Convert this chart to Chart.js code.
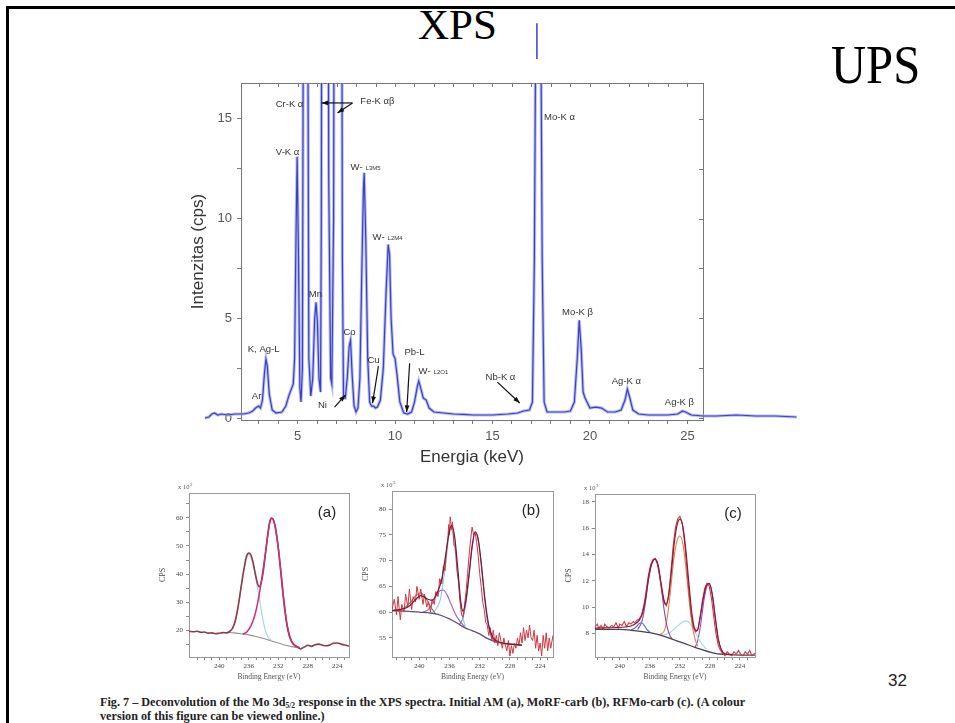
<!DOCTYPE html>
<html><head><meta charset="utf-8">
<script src="https://cdn.jsdelivr.net/npm/chart.js@4/dist/chart.umd.min.js"></script>
<style>
html,body{margin:0;padding:0;background:#fff;width:955px;height:723px;overflow:hidden;position:relative;font-family:'Liberation Sans',Arial,sans-serif}
#frameTop{position:absolute;left:6px;top:6px;width:949px;height:3px;background:#000}
#frameLeft{position:absolute;left:6px;top:6px;width:3px;height:717px;background:#000}
.ttl{position:absolute;font-family:'Liberation Serif','Times New Roman',serif;color:#000;line-height:1;white-space:nowrap}
canvas{position:absolute}
#caption{position:absolute;left:100px;top:695px;font-family:'Liberation Serif','Times New Roman',serif;font-weight:bold;font-size:12.2px;line-height:14px;color:#222;white-space:nowrap}
#caption sub{font-size:7.5px;vertical-align:-2px;line-height:0}
#pg{position:absolute;left:888px;top:671px;font-size:17px;color:#222;font-family:'Liberation Sans',Arial,sans-serif}
</style></head><body>
<div id="frameTop"></div><div id="frameLeft"></div>
<div class="ttl" style="left:418px;top:3px;font-size:43px;">XPS</div>
<div class="ttl" style="left:831px;top:38px;font-size:54px;transform:scaleX(0.9);transform-origin:left top;">UPS</div>
<canvas id="main" width="680" height="470" style="left:150px;top:10px"></canvas>
<canvas id="pa"></canvas><canvas id="pb"></canvas><canvas id="pc"></canvas>
<div id="caption">Fig. 7 – Deconvolution of the Mo 3d<sub>5/2</sub> response in the XPS spectra. Initial AM (a), MoRF-carb (b), RFMo-carb (c). (A colour<br>version of this figure can be viewed online.)</div>
<div id="pg">32</div>
<script>
// ===== Main XRF spectrum: [energy keV, intensity cps] =====
const spectrum = [
[0.25,0.0],[0.45,0.05],[0.6,0.2],[0.75,0.25],[0.9,0.15],[1.1,0.2],[1.4,0.15],[1.8,0.2],[2.2,0.2],[2.5,0.25],[2.7,0.35],[2.85,0.5],[3.0,0.6],[3.1,0.5],[3.2,0.9],[3.3,2.2],[3.38,2.95],[3.45,2.6],[3.55,1.2],[3.7,0.4],[3.9,0.25],[4.2,0.3],[4.4,0.6],[4.55,1.1],[4.7,1.5],[4.78,1.7],[4.85,3.0],[4.92,9.0],[4.98,13.1],[5.05,8.0],[5.12,1.5],[5.18,0.8],[5.25,2.5],[5.32,30],[5.38,80],[5.44,80],[5.5,30],[5.58,3.0],[5.68,1.1],[5.78,2.0],[5.88,5.0],[5.95,5.8],[6.02,4.8],[6.1,2.0],[6.18,1.3],[6.22,10],[6.3,60],[6.5,60],[6.6,12],[6.7,2.0],[6.76,1.7],[6.85,10],[6.95,60],[7.2,60],[7.3,8],[7.36,1.0],[7.45,1.0],[7.55,2.0],[7.65,3.6],[7.72,3.9],[7.8,2.2],[7.9,0.6],[8.0,0.3],[8.1,0.5],[8.2,2.0],[8.3,7.5],[8.38,11.5],[8.42,12.3],[8.5,9.0],[8.6,3.0],[8.7,0.8],[8.8,0.6],[8.9,0.6],[9.0,0.5],[9.1,0.55],[9.25,0.9],[9.4,2.5],[9.55,6.5],[9.65,8.7],[9.72,8.2],[9.8,5.0],[9.9,3.2],[10.0,3.0],[10.1,2.2],[10.25,0.8],[10.45,0.25],[10.65,0.2],[10.85,0.3],[11.0,0.8],[11.15,1.6],[11.22,1.85],[11.32,1.5],[11.45,1.0],[11.6,0.9],[11.75,0.5],[12.0,0.3],[12.5,0.25],[13.0,0.2],[13.5,0.18],[14.0,0.15],[15.0,0.15],[15.8,0.2],[16.3,0.25],[16.6,0.35],[16.9,0.4],[17.05,0.8],[17.15,8],[17.25,25],[17.45,25],[17.55,8],[17.65,0.8],[17.8,0.3],[18.2,0.3],[18.7,0.3],[19.0,0.35],[19.2,0.8],[19.35,3.0],[19.45,4.9],[19.55,3.5],[19.65,1.3],[19.75,1.0],[19.85,0.8],[20.0,0.5],[20.3,0.55],[20.6,0.5],[20.9,0.3],[21.3,0.3],[21.6,0.4],[21.8,0.9],[21.92,1.45],[22.05,1.0],[22.2,0.4],[22.5,0.2],[23.0,0.15],[23.5,0.15],[24.0,0.15],[24.5,0.2],[24.75,0.35],[24.9,0.3],[25.2,0.15],[25.8,0.1],[26.5,0.1],[27.5,0.15],[28.5,0.1],[29.5,0.1],[30.6,0.05]
];
const moOverflow = [[17.28,18.0],[17.28,19.8]];
const xTickLabels = [5,10,15,20,25];
const yTickLabels = [0,5,10,15];
// peak labels: [text, subscript text, keV, cps]
const peakLabels = [
['Cr-K α','',4.59,15.73],['Fe-K αβ','',9.10,15.88],['V-K α','',4.49,13.32],['W-','L3M5',8.49,12.56],['W-','L2M4',9.62,9.05],
['Mn','',5.92,6.18],['Co','',7.67,4.27],['Cu','',8.9,2.91],['Pb-L','',11.0,3.27],['W-','L2O1',11.97,2.36],['Ni','',6.28,0.65],
['K, Ag-L','',3.26,3.42],['Ar','',2.9,1.1],['Nb-K α','',15.41,2.06],['Mo-K α','',18.44,15.08],['Mo-K β','',19.36,5.28],
['Ag-K α','',21.87,1.86],['Ag-K β','',24.59,0.80]
];
// arrows: [fromKeV, fromCps, toKeV, toCps]
const peakArrows = [[7.82,15.8,6.23,15.8],[7.82,15.8,7.05,15.3],[9.15,2.6,8.85,0.75],[10.75,2.75,10.6,0.3],[6.9,0.55,7.45,1.15],[15.25,1.8,16.4,0.75]];

// ===== XPS panels: [binding energy eV, CPS] =====
const aMeasured = [[244.1,19.6],[243.5,19.4],[243,19.6],[242.5,19.2],[242,19.3],[241.5,18.9],[241,19.0],[240.5,18.7],[240,18.9],[239.5,19.1],[239,19.0],[238.6,19.5],[238.2,20.6],[237.8,23.5],[237.4,29],[237.0,36],[236.6,42.5],[236.3,46.3],[236.0,47.5],[235.7,46.8],[235.4,44],[235.1,40],[234.8,36.5],[234.6,35.5],[234.3,37],[234.0,41.5],[233.7,48],[233.4,54.5],[233.1,59],[232.9,60],[232.6,59],[232.3,55.5],[232.0,49.5],[231.7,42],[231.4,34],[231.1,27],[230.8,21.5],[230.5,18],[230.1,15.5],[229.7,14.4],[229.3,13.9],[229.0,13.3],[228.7,13.6],[228.3,14.2],[228.0,14.6],[227.5,14.2],[227.0,14.8],[226.5,15.0],[226.0,14.6],[225.5,14.4],[225.0,14.7],[224.5,15.3],[224.0,15.4],[223.5,15.0],[223.0,14.7],[222.4,14.3]];
const aBackground = [[238.9,19.2],[238,19.0],[237,18.7],[236,18.3],[235,17.7],[234,17.0],[233,16.2],[232,15.4],[231,14.6],[230,14.0],[229.1,13.6]];
const aPeak1 = [[238.8,19.3],[238.3,20.3],[237.9,22.8],[237.5,27.5],[237.1,34],[236.7,40.5],[236.3,45.5],[236.0,47],[235.7,46],[235.3,42],[234.9,36.5],[234.5,30.5],[234.1,24],[233.7,19.5],[233.3,17.2],[232.9,16.3]];
const aPeak2 = [[236.8,18.5],[236.2,19.5],[235.7,21.5],[235.2,25],[234.8,29.5],[234.4,35.5],[234.0,42.5],[233.6,50],[233.3,56],[233.0,59.8],[232.7,59.5],[232.4,56.5],[232.0,49.5],[231.6,40],[231.2,30],[230.8,22],[230.4,17.5],[230.0,15.2],[229.5,14.2],[229.1,13.7]];

const bMeasured = [[243.6,60.5],[243.3,62.5],[243.0,59.5],[242.8,63.0],[242.5,58.5],[242.3,61.5],[242.0,60.0],[241.8,63.5],[241.5,61.0],[241.3,64.5],[241.0,60.5],[240.8,63.0],[240.5,62.0],[240.3,65.0],[240.0,62.5],[239.8,64.5],[239.5,61.5],[239.3,63.5],[239.0,61.0],[238.8,62.0],[238.5,60.0],[238.3,62.5],[238.0,61.5],[237.8,64.0],[237.5,63.0],[237.3,66.5],[237.0,65.5],[236.8,69.0],[236.6,68.0],[236.4,72.0],[236.2,74.5],[236.1,77.0],[236.0,75.0],[235.9,78.5],[235.7,76.0],[235.6,77.5],[235.4,73.0],[235.2,72.5],[235.0,68.0],[234.8,66.0],[234.6,62.0],[234.4,59.5],[234.2,59.0],[234.0,61.5],[233.8,64.0],[233.6,67.5],[233.4,71.0],[233.2,74.0],[233.0,76.5],[232.8,75.0],[232.6,75.5],[232.4,73.5],[232.2,71.0],[232.0,67.5],[231.8,65.0],[231.6,62.0],[231.4,60.5],[231.2,58.0],[231.0,57.5],[230.8,55.5],[230.6,57.0],[230.4,54.5],[230.2,56.5],[230.0,54.0],[229.8,55.5],[229.6,53.5],[229.4,56.0],[229.2,54.5],[229.0,53.0],[228.8,55.0],[228.6,53.5],[228.4,52.5],[228.2,54.5],[228.0,51.5],[227.8,53.5],[227.6,52.0],[227.4,54.0],[227.2,53.0],[227.0,55.0],[226.8,53.5],[226.6,56.0],[226.4,54.0],[226.2,57.0],[226.0,54.5],[225.8,56.5],[225.6,55.0],[225.4,57.5],[225.2,55.0],[225.0,54.5],[224.8,56.5],[224.6,53.0],[224.4,55.5],[224.2,52.5],[224.0,54.0],[223.8,51.5],[223.6,55.5],[223.4,53.0],[223.2,56.0],[223.0,52.5],[222.8,55.0],[222.6,53.0],[222.3,55.5]];
const bFit = [[243.6,60.3],[241.5,61.0],[240.5,62.4],[239.8,63.2],[239.0,62.6],[238.3,62.3],[237.6,63.8],[237.0,66.5],[236.5,71],[236.0,75.8],[235.7,76.8],[235.3,74.5],[234.9,68.5],[234.5,62],[234.2,60.2],[233.8,62.5],[233.4,67.5],[233.0,72.8],[232.6,75.6],[232.2,74.2],[231.8,69.5],[231.3,62.5],[230.8,57.5],[230.3,55.2],[229.6,54.3],[228.5,53.9],[226.4,53.6]];
const bBackground = [[243.6,60.3],[242,60.2],[240,60.0],[238,59.7],[237,59.3],[236,58.7],[235,57.9],[234,57.0],[233,56.4],[232,55.8],[231,54.9],[230,54.3],[229,54.0],[228,53.8],[226.4,53.6]];
const bPeak1 = [[243.0,60.3],[242.0,60.8],[241.0,62.2],[240.3,63.4],[239.8,63.7],[239.3,63.1],[238.8,61.9],[238.3,60.6],[237.8,59.6]];
const bPeak2 = [[239.5,60.0],[238.8,60.5],[238.3,61.6],[237.8,63.1],[237.2,64.2],[236.8,64.3],[236.3,63.3],[235.8,61.6],[235.2,59.6],[234.6,58.2],[234.0,57.2]];
const bPeak3 = [[238.5,59.8],[237.8,60.5],[237.2,62.5],[236.8,66],[236.4,70.5],[236.1,74.5],[235.8,76],[235.5,75],[235.1,70],[234.7,64],[234.3,59.5],[233.9,57.2]];
const bPeak4 = [[234.7,57.5],[234.2,59],[233.8,62],[233.4,67],[233.0,72.5],[232.6,75.5],[232.2,74],[231.8,69.5],[231.4,63.5],[231.0,58.5],[230.6,55.8],[230.2,54.6],[229.8,54.2]];

const cMeasured = [[243.3,8.5],[243.0,8.7],[242.8,8.4],[242.5,8.6],[242.2,8.3],[242.0,8.7],[241.7,8.5],[241.4,8.4],[241.1,8.6],[240.8,8.5],[240.5,8.8],[240.2,8.4],[240.0,8.7],[239.7,8.6],[239.4,8.9],[239.1,8.5],[238.8,8.8],[238.5,8.7],[238.2,8.9],[238.0,8.8],[237.7,9.0],[237.4,9.1],[237.1,9.4],[236.8,10.1],[236.5,11.2],[236.2,12.4],[235.9,13.2],[235.6,13.6],[235.3,13.7],[235.0,13.3],[234.7,12.4],[234.4,11.2],[234.1,10.3],[233.8,10.1],[233.5,10.8],[233.2,12.6],[232.9,14.6],[232.6,16.0],[232.3,16.7],[232.0,16.9],[231.7,16.4],[231.4,15.1],[231.1,13.2],[230.8,11.2],[230.5,9.5],[230.2,8.5],[229.9,8.1],[229.6,8.3],[229.3,9.3],[229.0,10.5],[228.7,11.4],[228.4,11.8],[228.1,11.6],[227.8,10.7],[227.5,9.3],[227.2,8.0],[226.9,7.1],[226.6,6.7],[226.3,6.5],[226.0,6.3],[225.7,6.6],[225.4,6.4],[225.1,6.3],[224.8,6.6],[224.5,6.4],[224.2,6.7],[223.9,6.4],[223.6,6.3],[223.3,6.6],[223.0,6.4],[222.7,6.7],[222.4,6.3],[222.0,6.5]];
const cFit = [[243.3,8.4],[239,8.5],[238,8.7],[237.4,9.0],[237,9.5],[236.6,10.5],[236.2,12.1],[235.8,13.2],[235.3,13.65],[234.9,13.2],[234.5,11.8],[234.1,10.5],[233.8,10.2],[233.5,10.9],[233.1,12.9],[232.7,15.1],[232.3,16.4],[232.0,16.7],[231.6,16.1],[231.2,14.3],[230.8,11.8],[230.4,9.5],[230.0,8.3],[229.7,8.2],[229.3,9.2],[228.9,10.6],[228.5,11.6],[228.1,11.8],[227.7,11.0],[227.3,9.3],[226.9,7.6],[226.5,6.8],[226.0,6.45],[225.0,6.4]];
const cBackground = [[243.3,8.3],[240,8.3],[238,8.2],[236,8.05],[234.5,7.85],[233,7.55],[231.5,7.25],[229.8,6.9],[227.5,6.5],[226,6.4],[224,6.35],[222,6.35]];
const cPeak1 = [[238.5,8.25],[237.9,8.45],[237.4,8.75],[237.1,8.8],[236.8,8.65],[236.4,8.3],[236.0,8.1]];
const cPeak2 = [[237.6,8.3],[237.0,9.0],[236.6,10.3],[236.2,12.0],[235.8,13.2],[235.3,13.65],[234.9,13.1],[234.5,11.6],[234.1,9.8],[233.7,8.5],[233.3,7.8],[232.9,7.5]];
const cPeak3 = [[234.6,7.9],[234.0,8.3],[233.6,9.5],[233.2,11.5],[232.8,13.7],[232.4,15.0],[232.0,15.4],[231.6,14.8],[231.2,13.0],[230.8,10.7],[230.4,8.8],[230.0,7.6],[229.6,7.0]];
const cPeak4 = [[234.5,7.85],[233.5,8.0],[232.6,8.4],[231.8,8.8],[231.2,8.95],[230.6,8.7],[229.9,8.0],[229.2,7.3],[228.5,6.8]];
const cPeak5 = [[230.0,6.9],[229.6,7.5],[229.2,8.8],[228.8,10.5],[228.4,11.6],[228.1,11.8],[227.7,11.0],[227.3,9.2],[226.9,7.6],[226.5,6.7],[226.1,6.4]];
const panelXTickLabels = [240,236,232,228,224];

const pts = a => a.map(p => ({x:p[0], y:p[1]}));
const range = (a,b,s) => { const r=[]; for(let v=a; v<=b+1e-9; v+=s) r.push(Math.round(v*100)/100); return r; };

// ---------- main chart ----------
const LBL='"Liberation Sans", Arial, sans-serif';
const mainPlugin = {
  id:'mainDeco',
  beforeDatasetsDraw(chart){
    const {ctx, chartArea:a, scales:{x,y}} = chart;
    ctx.save();
    ctx.strokeStyle='#777'; ctx.lineWidth=1;
    ctx.strokeRect(a.left+0.5, a.top+0.5, a.right-a.left, a.bottom-a.top);
    ctx.beginPath();
    x.ticks.forEach(t=>{const px=Math.round(x.getPixelForValue(t.value))+0.5; ctx.moveTo(px,a.top); ctx.lineTo(px,a.top+4);});
    y.ticks.forEach(t=>{const py=Math.round(y.getPixelForValue(t.value))+0.5; ctx.moveTo(a.right,py); ctx.lineTo(a.right-4,py);});
    ctx.stroke();
    ctx.restore();
  },
  afterDatasetsDraw(chart){
    const {ctx, scales:{x,y}} = chart;
    ctx.save();
    ctx.fillStyle='#333'; ctx.textBaseline='middle';
    peakLabels.forEach(([t,s,kx,ky])=>{
      const px=x.getPixelForValue(kx), py=y.getPixelForValue(ky);
      ctx.font='9.5px '+LBL;
      const w1=ctx.measureText(t).width;
      ctx.font='6px '+LBL;
      const w2=s?ctx.measureText(s).width+3:0;
      const left=px-(w1+w2)/2;
      ctx.font='9.5px '+LBL;
      ctx.textAlign='left'; ctx.fillText(t,left,py);
      if(s){ctx.font='6px '+LBL; ctx.fillText(s,left+w1+3,py+1);}
    });
    ctx.strokeStyle='#111'; ctx.fillStyle='#111'; ctx.lineWidth=1.2;
    peakArrows.forEach(([x1,y1,x2,y2])=>{
      const p1=[x.getPixelForValue(x1),y.getPixelForValue(y1)], p2=[x.getPixelForValue(x2),y.getPixelForValue(y2)];
      ctx.beginPath(); ctx.moveTo(p1[0],p1[1]); ctx.lineTo(p2[0],p2[1]); ctx.stroke();
      const ang=Math.atan2(p2[1]-p1[1],p2[0]-p1[0]);
      ctx.beginPath(); ctx.moveTo(p2[0],p2[1]);
      ctx.lineTo(p2[0]-7*Math.cos(ang-0.35),p2[1]-7*Math.sin(ang-0.35));
      ctx.lineTo(p2[0]-7*Math.cos(ang+0.35),p2[1]-7*Math.sin(ang+0.35));
      ctx.closePath(); ctx.fill();
    });
    ctx.restore();
  }
};
const clipTop = {left:false,right:false,top:0,bottom:false};
new Chart(document.getElementById('main'), {
  type:'line',
  data:{datasets:[
    {data:pts(spectrum), borderColor:'#3a40c4', borderWidth:1.2, pointRadius:0, clip:clipTop, tension:0},
    {data:pts(spectrum), borderColor:'rgba(160,168,236,0.75)', borderWidth:3.2, pointRadius:0, clip:clipTop, tension:0},
    {data:pts(moOverflow), borderColor:'#3a40c4', borderWidth:1.5, pointRadius:0, clip:false}
  ]},
  options:{
    responsive:false, animation:false, events:[],
    layout:{padding:{left:0,top:73,right:127,bottom:0}},
    plugins:{legend:{display:false}, tooltip:{enabled:false}},
    scales:{
      x:{type:'linear', bounds:'data',
        afterDataLimits(s){s.min=2.1; s.max=25.8;},
        afterBuildTicks(s){s.ticks=range(3,25,1).map(v=>({value:v}));},
        afterFit(s){s.height=60;},
        ticks:{autoSkip:false, maxRotation:0, padding:5, color:'#555', font:{size:13, family:LBL},
          callback:v=> xTickLabels.includes(v)? String(v):''},
        grid:{drawOnChartArea:false, drawTicks:true, tickLength:4, color:'#777'},
        border:{display:true, color:'#777'},
        title:{display:true, text:'Energia (keV)', color:'#333', font:{size:17, family:LBL}, padding:{top:0,bottom:12}}
      },
      y:{type:'linear', bounds:'data',
        afterDataLimits(s){s.min=-0.1; s.max=16.8;},
        afterBuildTicks(s){s.ticks=range(0,15,2.5).map(v=>({value:v}));},
        afterFit(s){s.width=91;},
        ticks:{autoSkip:false, padding:5, color:'#555', font:{size:13, family:LBL},
          callback:v=> yTickLabels.includes(v)? String(v):''},
        grid:{drawOnChartArea:false, drawTicks:true, tickLength:4, color:'#777'},
        border:{display:true, color:'#777'},
        title:{display:true, text:'Intenzitas (cps)', color:'#333', font:{size:17, family:LBL}, padding:{top:38,bottom:0}}
      }
    }
  },
  plugins:[mainPlugin]
});

// ---------- XPS panels ----------
function panel(id, fr, xr, yr, yTicks, yMinor, series, tag, sup){
  const cv=document.getElementById(id);
  const W=(fr[2]-fr[0])+53, H=(fr[3]-fr[1])+18+32;
  cv.width=W; cv.height=H; cv.style.left=(fr[0]-45)+'px'; cv.style.top=(fr[1]-18)+'px';
  const deco={id:'deco'+id,
    beforeDatasetsDraw(chart){
      const {ctx, chartArea:a}=chart; ctx.save();
      ctx.strokeStyle='#999'; ctx.lineWidth=1;
      ctx.strokeRect(a.left+0.5,a.top+0.5,a.right-a.left,a.bottom-a.top); ctx.restore();
    },
    afterDatasetsDraw(chart){
      const {ctx, chartArea:a}=chart; ctx.save();
      ctx.fillStyle='#222'; ctx.font='15px '+LBL; ctx.textAlign='center'; ctx.textBaseline='middle';
      ctx.fillText(tag, a.right-22, a.top+20);
      ctx.fillStyle='#555'; ctx.font='6.5px "Liberation Serif", serif'; ctx.textAlign='left'; ctx.textBaseline='alphabetic';
      const w=ctx.measureText('x 10').width;
      ctx.fillText('x 10', a.left-11, a.top-4);
      ctx.font='5px "Liberation Serif", serif'; ctx.fillText(sup, a.left-11+w+0.5, a.top-7);
      ctx.restore();
    }};
  new Chart(cv,{
    type:'line',
    data:{datasets:series.map(s=>({data:pts(s.d), borderColor:s.c, borderWidth:s.w||1, pointRadius:0, tension:s.t===undefined?0.35:s.t, cubicInterpolationMode:s.t===0?'default':'monotone'}))},
    options:{responsive:false, animation:false, events:[],
      layout:{padding:{left:0,top:18,right:8,bottom:0}},
      plugins:{legend:{display:false}, tooltip:{enabled:false}},
      scales:{
        x:{type:'linear', reverse:true, min:xr[1], max:xr[0], bounds:'data',
          afterBuildTicks(s){s.ticks=range(223,243,1).map(v=>({value:v}));},
          afterFit(s){s.height=32;},
          ticks:{autoSkip:false, maxRotation:0, padding:2, color:'#444', font:{size:7, family:'"Liberation Serif", serif'},
            callback:v=> panelXTickLabels.includes(v)? String(v):''},
          grid:{drawOnChartArea:false, drawTicks:true, tickLength:3, color:'#888'},
          border:{display:true,color:'#999'},
          title:{display:true, text:'Binding Energy (eV)', color:'#555', font:{size:7.5, family:'"Liberation Serif", serif'}, padding:{top:0,bottom:7}}
        },
        y:{type:'linear', min:yr[0], max:yr[1], bounds:'data',
          afterBuildTicks(s){s.ticks=yTicks.concat(yMinor).sort((p,q)=>p-q).map(v=>({value:v}));},
          afterFit(s){s.width=45;},
          ticks:{autoSkip:false, padding:3, color:'#444', font:{size:7, family:'"Liberation Serif", serif'},
            callback:v=> yTicks.includes(v)? String(v):''},
          grid:{drawOnChartArea:false, drawTicks:true, tickLength:3, color:'#888'},
          border:{display:true,color:'#999'},
          title:{display:true, text:'CPS', color:'#444', font:{size:8, family:'"Liberation Serif", serif'}, padding:{top:14,bottom:0}}
        }
      }
    },
    plugins:[deco]
  });
}
panel('pa',[189,493,349,657],[244.1,222.4],[10.4,68.9],[20,30,40,50,60],[15,25,35,45,55,65],[
  {d:aPeak2,c:'#c8307c',w:1.5},
  {d:aMeasured,c:'#8e3a48',w:1.6,t:0.2},
  {d:aPeak1,c:'#9fd4e4',w:1.1},
  {d:aBackground,c:'#9a8f88',w:1.1}
],'(a)','2');
panel('pb',[392,491,553,657],[243.6,222.3],[51.3,83.5],[55,60,65,70,75,80],[],[
  {d:bFit,c:'#7a1636',w:1.2},
  {d:bMeasured,c:'#d2383f',w:1,t:0},
  {d:bBackground,c:'#5e4e70',w:1.3},
  {d:bPeak1,c:'#a86058',w:1.1},
  {d:bPeak2,c:'#a060b4',w:1.1},
  {d:bPeak3,c:'#86cfe0',w:1.1},
  {d:bPeak4,c:'#6a7ed0',w:1.1}
],'(b)','3');
panel('pc',[595,494,755,657],[243.3,222.0],[6.2,18.6],[8,10,12,14,16,18],[],[
  {d:cFit,c:'#8a1838',w:1.2},
  {d:cMeasured,c:'#d2383f',w:1.1,t:0},
  {d:cBackground,c:'#4a4050',w:1.3},
  {d:cPeak1,c:'#4a72d4',w:1.1},
  {d:cPeak2,c:'#8a4ab4',w:1.1},
  {d:cPeak3,c:'#e08050',w:1.1},
  {d:cPeak4,c:'#a0dce4',w:1.1},
  {d:cPeak5,c:'#9a50c4',w:1.1}
],'(c)','3');
</script>
</body></html>
